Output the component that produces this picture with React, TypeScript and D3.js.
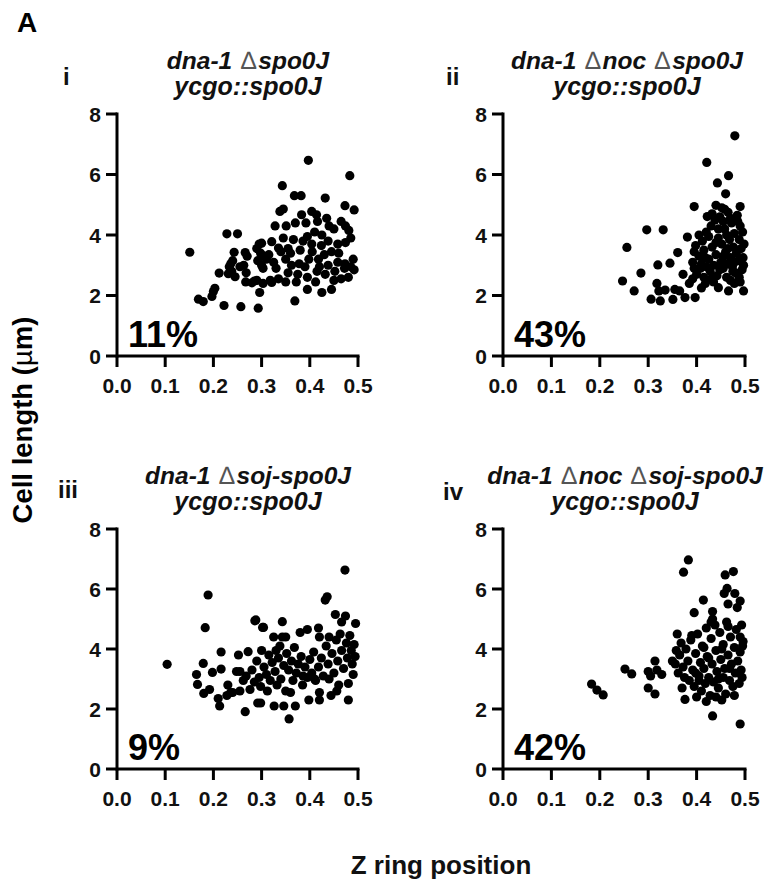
import React from "react";
import * as d3 from "d3";

const xTicks = [0, 0.1, 0.2, 0.3, 0.4, 0.5];
const yTicks = [0, 2, 4, 6, 8];

const panelIds = ["i", "ii", "iii", "iv"];
const titleLine1 = ["dna-1 ∆spo0J", "dna-1 ∆noc ∆spo0J", "dna-1 ∆soj-spo0J", "dna-1 ∆noc ∆soj-spo0J"];
const titleLine2 = ["ycgo::spo0J", "ycgo::spo0J", "ycgo::spo0J", "ycgo::spo0J"];
const percentLabels = ["11%", "43%", "9%", "42%"];

const dataI: [number, number][] = [
  [0.151,3.43],[0.169,1.88],[0.179,1.80],[0.197,1.97],[0.200,2.13],[0.203,2.24],[0.212,2.74],[0.222,1.67],[0.228,4.04],[0.250,4.04],
  [0.243,3.43],[0.233,2.95],[0.238,2.80],[0.231,2.72],[0.245,2.62],[0.240,3.15],[0.236,3.05],[0.257,1.63],[0.266,3.42],[0.270,3.30],
  [0.263,3.00],[0.268,2.75],[0.267,2.45],[0.255,2.95],[0.280,2.42],[0.285,2.48],[0.293,1.58],[0.296,2.10],[0.290,3.55],[0.295,3.70],
  [0.300,3.73],[0.298,3.40],[0.305,3.30],[0.292,3.15],[0.300,3.00],[0.310,3.20],[0.303,2.90],[0.290,2.50],[0.303,2.40],[0.321,2.43],
  [0.321,3.78],[0.335,3.57],[0.315,3.35],[0.325,3.10],[0.330,2.90],[0.338,4.78],[0.345,4.86],[0.343,5.63],[0.328,4.30],[0.351,4.30],
  [0.368,5.30],[0.382,5.30],[0.397,6.47],[0.432,5.22],[0.483,5.96],[0.473,4.97],[0.492,4.83],[0.383,4.67],[0.404,4.78],[0.414,4.67],
  [0.370,4.40],[0.392,4.40],[0.416,4.45],[0.435,4.55],[0.440,4.30],[0.474,4.30],[0.481,4.15],[0.366,3.85],[0.386,3.80],[0.404,3.70],
  [0.424,3.65],[0.438,3.80],[0.458,3.70],[0.474,3.75],[0.485,3.90],[0.350,3.20],[0.362,3.00],[0.378,3.05],[0.398,3.20],[0.418,3.20],
  [0.438,3.00],[0.458,3.10],[0.473,3.05],[0.490,3.20],[0.355,2.75],[0.375,2.70],[0.395,2.60],[0.415,2.80],[0.432,2.70],[0.452,2.80],
  [0.472,2.90],[0.485,2.95],[0.492,2.85],[0.372,2.45],[0.395,2.20],[0.412,2.45],[0.445,2.20],[0.425,2.10],[0.369,1.82],[0.340,3.45],
  [0.355,3.55],[0.345,3.90],[0.360,3.40],[0.380,3.50],[0.395,3.95],[0.410,4.10],[0.425,4.00],[0.450,4.20],[0.465,4.45],[0.460,3.40],
  [0.445,3.45],[0.430,3.35],[0.405,3.45],[0.390,2.95],[0.420,2.95],[0.480,2.60],[0.465,2.55],[0.450,2.50],[0.350,2.45],[0.335,2.55],
  [0.318,2.50]
];

const dataII: [number, number][] = [
  [0.479,7.28],[0.421,6.40],[0.466,5.96],[0.443,5.72],[0.460,5.36],[0.395,4.94],[0.440,4.98],[0.458,4.85],[0.490,4.94],[0.422,4.61],
  [0.297,4.17],[0.331,4.17],[0.381,3.93],[0.256,3.59],[0.361,3.42],[0.345,3.07],[0.320,3.01],[0.285,2.74],[0.247,2.48],[0.271,2.15],
  [0.306,1.88],[0.325,1.82],[0.351,1.87],[0.376,1.93],[0.397,1.93],[0.318,2.40],[0.322,2.15],[0.335,2.18],[0.355,2.20],[0.365,2.15],
  [0.372,2.70],[0.385,2.40],[0.392,2.55],[0.410,2.25],[0.418,2.40],[0.445,2.26],[0.466,2.15],[0.497,2.15],[0.490,2.45],[0.470,2.50],
  [0.392,3.10],[0.395,3.45],[0.398,3.65],[0.405,3.30],[0.408,2.90],[0.412,3.80],[0.415,3.50],[0.420,4.10],[0.425,3.20],[0.428,2.80],
  [0.430,4.30],[0.432,3.60],[0.435,3.00],[0.438,4.50],[0.440,3.35],[0.442,2.65],[0.445,3.90],[0.448,4.60],[0.450,3.10],[0.452,3.70],
  [0.455,2.90],[0.458,4.20],[0.460,3.45],[0.462,2.60],[0.465,4.75],[0.468,3.85],[0.470,3.25],[0.472,4.40],[0.474,2.95],[0.476,3.60],
  [0.478,4.05],[0.480,2.75],[0.482,3.40],[0.484,4.65],[0.486,3.15],[0.488,3.85],[0.490,4.30],[0.492,3.55],[0.494,2.85],[0.495,4.10],
  [0.496,3.25],[0.498,3.70],[0.400,2.70],[0.415,2.60],[0.425,3.95],[0.435,2.45],[0.455,3.30],[0.462,3.05],[0.448,2.85],[0.478,2.40],
  [0.470,4.55],[0.485,4.45],[0.432,4.70],[0.445,4.20],[0.418,3.25],[0.405,4.00],[0.452,4.90],[0.478,3.10],[0.465,3.55],[0.488,2.60],
  [0.497,3.00],[0.440,3.75],[0.455,4.45],[0.410,3.05],[0.395,2.90],[0.420,2.95],[0.462,4.00],[0.475,2.80],[0.430,2.55]
];

const dataIII: [number, number][] = [
  [0.104,3.49],[0.189,5.80],[0.183,4.71],[0.179,3.52],[0.165,3.15],[0.167,2.82],[0.180,2.52],[0.192,2.65],[0.198,3.22],[0.216,3.90],
  [0.216,3.33],[0.210,2.35],[0.213,2.10],[0.230,2.80],[0.248,3.25],[0.255,3.25],[0.252,3.80],[0.272,3.91],[0.286,4.94],[0.302,4.72],
  [0.266,1.91],[0.292,2.20],[0.262,2.95],[0.276,2.65],[0.228,2.45],[0.240,2.55],[0.255,2.60],[0.236,2.55],[0.268,3.10],[0.280,3.30],
  [0.285,2.90],[0.290,3.60],[0.295,3.05],[0.300,3.95],[0.298,2.75],[0.305,3.40],[0.310,3.15],[0.312,2.60],[0.315,3.80],[0.318,2.95],
  [0.322,3.55],[0.325,4.40],[0.328,3.25],[0.332,2.80],[0.335,3.70],[0.338,4.10],[0.340,3.00],[0.343,4.40],[0.343,4.91],[0.346,3.45],
  [0.298,2.20],[0.326,2.10],[0.346,2.10],[0.370,2.10],[0.357,1.67],[0.350,2.60],[0.360,2.55],[0.352,3.85],[0.356,3.30],[0.362,3.60],
  [0.365,2.95],[0.368,4.05],[0.372,3.20],[0.376,3.50],[0.380,4.55],[0.382,3.75],[0.386,3.10],[0.390,3.40],[0.395,4.65],[0.398,2.30],
  [0.400,3.65],[0.404,3.20],[0.408,3.90],[0.412,2.95],[0.418,4.70],[0.418,3.40],[0.420,2.30],[0.420,2.55],[0.424,3.70],[0.428,3.10],
  [0.432,5.63],[0.436,5.74],[0.434,4.10],[0.438,3.50],[0.440,4.40],[0.444,2.45],[0.446,3.85],[0.450,3.20],[0.453,5.15],[0.455,4.30],
  [0.458,3.60],[0.460,2.80],[0.463,4.50],[0.466,3.95],[0.470,3.35],[0.473,6.63],[0.474,5.10],[0.476,4.20],[0.478,3.70],[0.480,2.30],
  [0.480,2.85],[0.483,4.45],[0.486,3.95],[0.488,3.50],[0.490,3.15],[0.492,4.15],[0.495,4.85],[0.494,3.75],[0.288,4.97],[0.304,4.72],
  [0.420,4.40],[0.466,4.90],[0.350,4.40],[0.330,3.95],[0.395,3.05],[0.410,3.00],[0.440,3.00],[0.385,2.80],[0.456,2.60]
];

const dataIV: [number, number][] = [
  [0.383,6.97],[0.373,6.56],[0.476,6.58],[0.459,6.47],[0.463,6.02],[0.479,5.85],[0.490,5.60],[0.457,5.85],[0.414,5.63],[0.465,5.50],
  [0.484,5.38],[0.395,5.21],[0.433,5.25],[0.433,5.00],[0.493,4.80],[0.490,4.40],[0.495,4.10],[0.183,2.83],[0.194,2.63],[0.207,2.47],
  [0.252,3.33],[0.266,3.17],[0.300,2.70],[0.314,2.50],[0.305,3.10],[0.318,3.30],[0.328,3.15],[0.314,3.60],[0.300,3.25],[0.350,3.60],
  [0.358,3.95],[0.356,3.50],[0.370,2.70],[0.376,2.32],[0.400,2.40],[0.433,1.77],[0.490,1.50],[0.360,4.50],[0.390,4.45],[0.362,3.20],
  [0.365,3.80],[0.368,4.20],[0.372,3.40],[0.375,3.05],[0.378,4.00],[0.382,3.60],[0.385,2.95],[0.388,4.30],[0.392,3.30],[0.395,2.75],
  [0.398,3.85],[0.402,4.50],[0.405,3.10],[0.408,3.55],[0.410,2.60],[0.412,4.10],[0.415,3.35],[0.418,2.85],[0.420,4.70],[0.422,3.75],
  [0.425,3.05],[0.428,2.45],[0.430,4.35],[0.432,3.50],[0.435,2.90],[0.438,4.80],[0.440,3.95],[0.442,3.25],[0.445,2.70],[0.448,4.55],
  [0.450,3.65],[0.452,2.30],[0.455,4.15],[0.458,3.35],[0.460,2.50],[0.462,4.90],[0.465,3.80],[0.468,2.95],[0.470,4.40],[0.472,3.50],
  [0.475,2.75],[0.478,4.05],[0.480,3.20],[0.482,4.65],[0.485,3.60],[0.488,2.85],[0.490,3.90],[0.492,3.30],[0.494,3.05],[0.496,4.25],
  [0.420,2.25],[0.415,4.05],[0.405,2.95],[0.398,3.20],[0.440,2.40],[0.445,3.00],[0.455,3.05],[0.468,3.35],[0.478,2.45],[0.425,3.70],
  [0.452,4.00],[0.430,4.90],[0.465,4.75]
];

const panelData = [dataI, dataII, dataIII, dataIV];

const FONT = "'Liberation Sans', Arial, Helvetica, sans-serif";

const frames = [
  { left: 117, right: 358, top: 114, bottom: 356 },
  { left: 503, right: 745, top: 114, bottom: 356 },
  { left: 117, right: 358, top: 529, bottom: 769 },
  { left: 503, right: 745, top: 529, bottom: 769 },
];
const idPos = [
  { x: 63, y: 85 },
  { x: 446, y: 85 },
  { x: 58, y: 498 },
  { x: 443, y: 500 },
];
const titleCenter = [248, 627, 248, 625];

const TITLE_SIZE = 24.5;

function TitleLine({ text, x, y }: { text: string; x: number; y: number }) {
  const parts = text.split("∆");
  return (
    <text x={x} y={y} textAnchor="middle" fontFamily={FONT} fontSize={TITLE_SIZE} fontWeight="bold" fontStyle="italic" fill="#111">
      {parts.map((p, i) => (
        <React.Fragment key={i}>
          {i > 0 && (
            <tspan fontWeight="normal" fontStyle="normal" fill="#555" fontSize={25} dx={2}>∆</tspan>
          )}
          <tspan dx={i > 0 ? 2 : 0}>{p}</tspan>
        </React.Fragment>
      ))}
    </text>
  );
}

function Panel({ idx }: { idx: number }) {
  const f = frames[idx];
  const x = d3.scaleLinear().domain([0, 0.5]).range([f.left, f.right]);
  const y = d3.scaleLinear().domain([0, 8]).range([f.bottom, f.top]);
  const tc = titleCenter[idx];
  const sw = 3;
  return (
    <g>
      <text x={idPos[idx].x} y={idPos[idx].y} fontFamily={FONT} fontSize={24} fontWeight="bold" fill="#111">
        {panelIds[idx]}
      </text>
      <TitleLine text={titleLine1[idx]} x={tc} y={f.top - 45} />
      <text x={tc} y={f.top - 19} textAnchor="middle" fontFamily={FONT} fontSize={TITLE_SIZE + 0.5} fontWeight="bold" fontStyle="italic" fill="#111">
        {titleLine2[idx]}
      </text>
      {panelData[idx].map((d, i) => (
        <circle key={i} cx={x(d[0])} cy={y(d[1])} r={4.6} fill="#000" />
      ))}
      <line x1={x(0)} x2={x(0)} y1={y(8) - sw / 2} y2={y(0) + sw / 2} stroke="#000" strokeWidth={sw} />
      <line x1={x(0)} x2={x(0.5) + sw / 2} y1={y(0)} y2={y(0)} stroke="#000" strokeWidth={sw} />
      {yTicks.map((t) => (
        <g key={"y" + t}>
          <line x1={x(0) - 11} x2={x(0)} y1={y(t)} y2={y(t)} stroke="#000" strokeWidth={sw} />
          <text x={x(0) - 16} y={y(t) + 7.5} textAnchor="end" fontFamily={FONT} fontSize={21} fontWeight="bold" fill="#111">
            {t}
          </text>
        </g>
      ))}
      {xTicks.map((t) => (
        <g key={"x" + t}>
          <line x1={x(t)} x2={x(t)} y1={y(0)} y2={y(0) + 11} stroke="#000" strokeWidth={sw} />
          <text x={x(t)} y={y(0) + 37} textAnchor="middle" fontFamily={FONT} fontSize={21} fontWeight="bold" fill="#111">
            {d3.format(".1f")(t)}
          </text>
        </g>
      ))}
      <text x={x(0) + 11} y={y(0) - 9} fontFamily={FONT} fontSize={36} fontWeight="bold" fill="#000">
        {percentLabels[idx]}
      </text>
    </g>
  );
}

export default function App() {
  return (
    <svg width={781} height={884} style={{ position: "absolute", left: 0, top: 0, background: "#fff" }}>
      <rect width={781} height={884} fill="#fff" />
      <text x={17} y={32} fontFamily={FONT} fontSize={28} fontWeight="bold" fill="#000">A</text>
      {panelIds.map((_, i) => (
        <Panel key={i} idx={i} />
      ))}
      <text
        transform="translate(32,420) rotate(-90)"
        textAnchor="middle"
        fontFamily={FONT}
        fontSize={27.5}
        fontWeight="bold"
        fill="#000"
      >
        Cell length (<tspan fontWeight="normal">µ</tspan>m)
      </text>
      <text x={441} y={874} textAnchor="middle" fontFamily={FONT} fontSize={26} fontWeight="bold" fill="#111">
        Z ring position
      </text>
    </svg>
  );
}
